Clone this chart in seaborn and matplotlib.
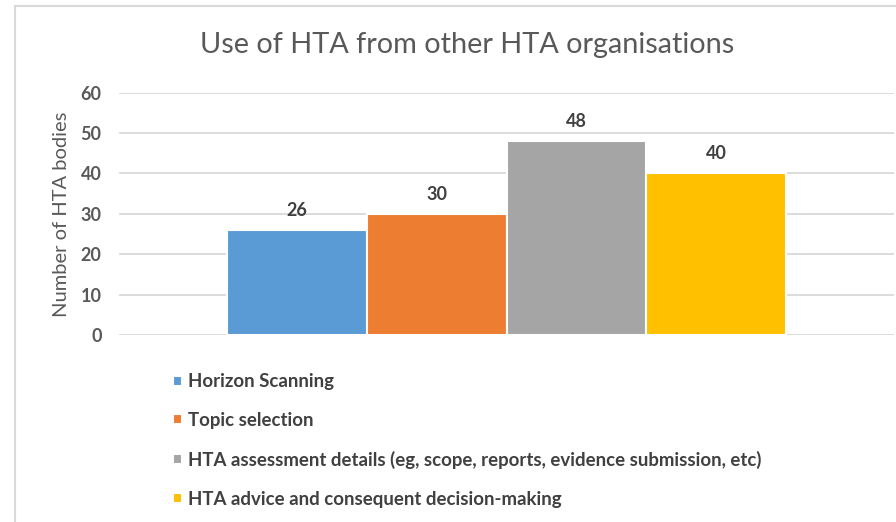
import matplotlib
matplotlib.use("Agg")
import matplotlib.pyplot as plt
import seaborn as sns
import pandas as pd
from matplotlib.patches import Rectangle

# data
categories = ["Horizon Scanning",
              "Topic selection",
              "HTA assessment details (eg, scope, reports, evidence submission, etc)",
              "HTA advice and consequent decision-making"]
counts = [26, 30, 48, 40]
bar_colors = ["#5B9BD5", "#ED7D31", "#A5A5A5", "#FFC000"]

TEXT = "#595959"
GRID = "#D9D9D9"


def main():
    sns.set_theme(style="white")
    plt.rcParams["font.family"] = ["Lato", "DejaVu Sans"]

    df = pd.DataFrame({"group": [""] * len(categories),
                       "use": categories,
                       "count": counts})

    fig = plt.figure(figsize=(8.96, 5.22), dpi=100)
    ax = fig.add_axes([119 / 896, 1 - 335 / 522, 775 / 896, 242.3 / 522])

    sns.barplot(data=df, x="group", y="count", hue="use", hue_order=categories,
                palette=bar_colors, width=0.722, edgecolor="white", linewidth=1.5,
                saturation=1, legend=True, ax=ax, zorder=3)

    for cont in ax.containers:
        ax.bar_label(cont, fmt="%d", padding=8, fontsize=13, color="#404040",
                     fontweight="bold")

    ax.set_ylim(0, 60)
    ax.set_xlim(-0.5, 0.5)
    ax.set_yticks(range(0, 61, 10))
    ax.yaxis.grid(True, color=GRID, linewidth=1.3, zorder=0)
    ax.set_axisbelow(True)
    ax.set_xticks([])
    ax.set_xlabel("")
    ax.set_ylabel("Number of HTA bodies", fontsize=14.5, color=TEXT, labelpad=8)
    ax.tick_params(axis="y", length=0, pad=12.5, labelsize=13, labelcolor=TEXT)
    for lbl in ax.get_yticklabels():
        lbl.set_fontweight("bold")
    sns.despine(ax=ax, left=True, bottom=True)

    fig.text(467 / 896, 1 - 45 / 522, "Use of HTA from other HTA organisations",
             ha="center", va="center", fontsize=20.8, color=TEXT)

    handles, labels = ax.get_legend_handles_labels()
    ax.get_legend().remove()
    leg = fig.legend(handles, labels, loc="upper left",
                     bbox_to_anchor=(164 / 896, 1 - 364 / 522),
                     frameon=False, fontsize=13.4, labelcolor="#404040",
                     handlelength=0.45, handleheight=0.45, handletextpad=0.35,
                     labelspacing=1.17, borderpad=0)
    for t in leg.get_texts():
        t.set_fontweight("bold")

    # outer chart border, cropped on the right and bottom like the reference
    fig.patches.append(Rectangle((15 / 896, -0.05), 1.0, 1.05 - 6 / 522,
                                 transform=fig.transFigure, fill=False,
                                 edgecolor=GRID, linewidth=1.5))

    fig.savefig("out.png", dpi=100)
    plt.close(fig)


if __name__ == "__main__":
    main()
